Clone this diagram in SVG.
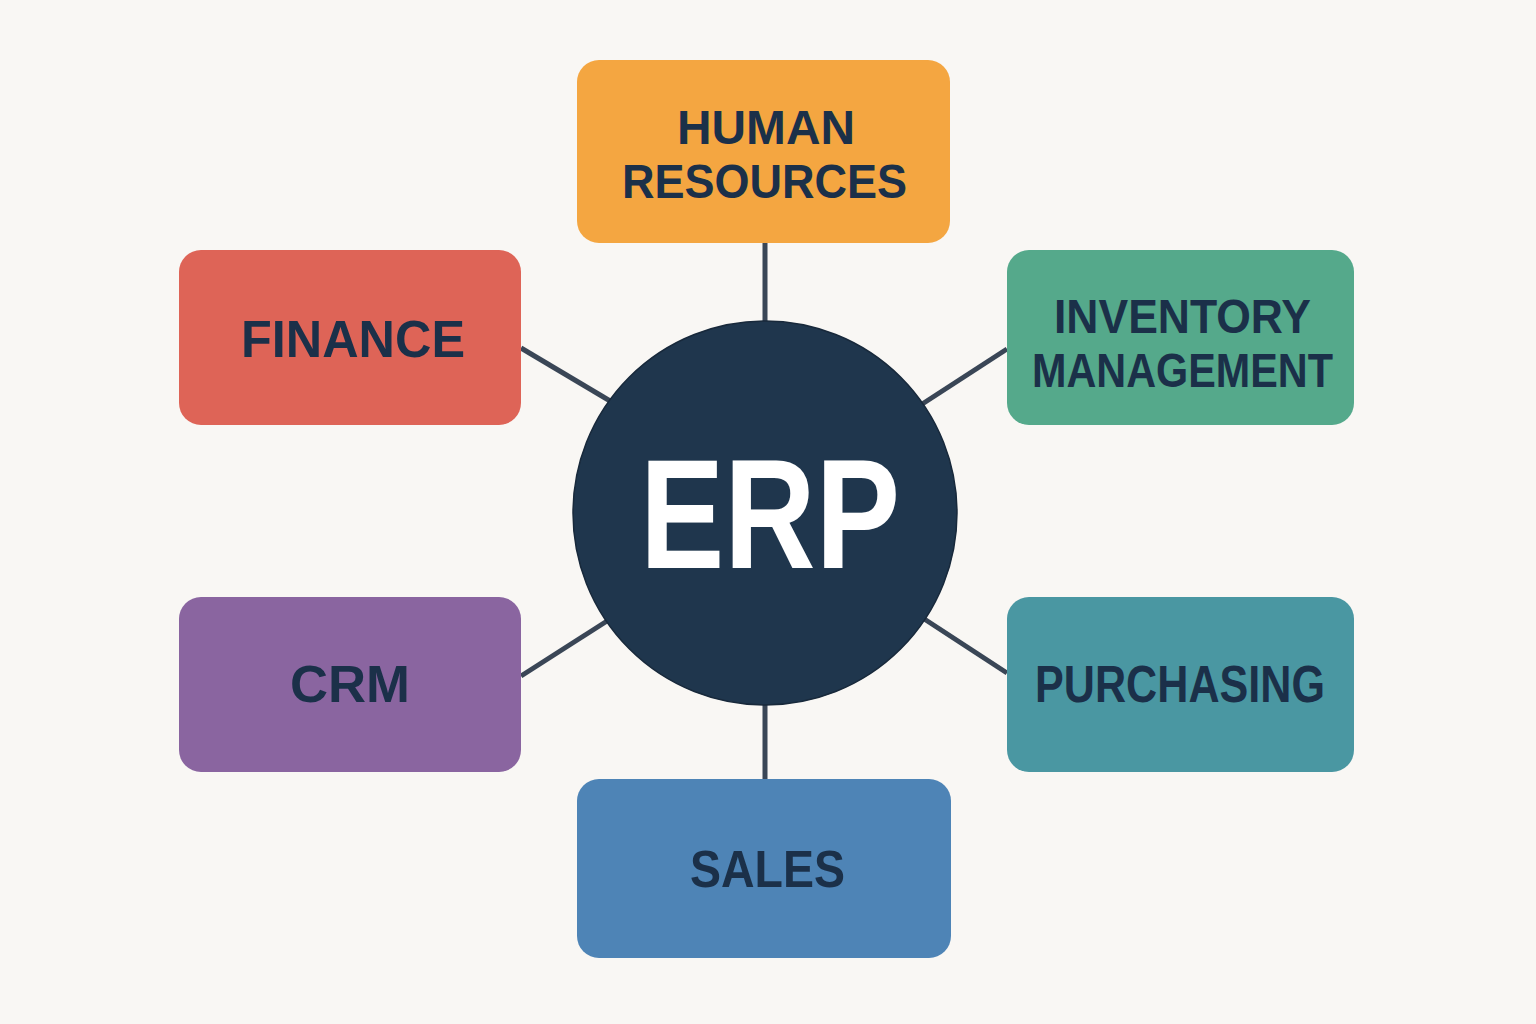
<svg xmlns="http://www.w3.org/2000/svg" width="1536" height="1024" viewBox="0 0 1536 1024">
<style>
.lbl{font-family:"Liberation Sans",Arial,sans-serif;font-weight:bold;font-size:52px;fill:#1B3049;text-anchor:middle}
.two{font-size:48px}
.con{stroke:#3A4656;stroke-width:5;fill:none}
</style>
<rect width="1536" height="1024" fill="#F9F7F4"/>
<g id="connectors">
<line class="con" x1="765" y1="243" x2="765" y2="513"/>
<line class="con" x1="521" y1="348" x2="765" y2="493"/>
<line class="con" x1="1007" y1="349" x2="765" y2="506"/>
<line class="con" x1="521" y1="676" x2="765" y2="520"/>
<line class="con" x1="1007" y1="673" x2="765" y2="515"/>
<line class="con" x1="765" y1="779" x2="765" y2="513"/>
</g>
<g id="erp">
<circle cx="765" cy="513" r="192" fill="#1F364D" stroke="#18293B" stroke-width="1.5"/>
<text x="770" y="568" font-family="'Liberation Sans',Arial,sans-serif" font-weight="bold" font-size="155" fill="#FFFFFF" text-anchor="middle" textLength="260" lengthAdjust="spacingAndGlyphs">ERP</text>
</g>
<g id="hr">
<rect x="577" y="60" width="373" height="183" rx="22" fill="#F4A641"/>
<text class="lbl two" x="766" y="144" textLength="178" lengthAdjust="spacingAndGlyphs">HUMAN</text>
<text class="lbl two" x="764.5" y="198" textLength="285" lengthAdjust="spacingAndGlyphs">RESOURCES</text>
</g>
<g id="finance">
<rect x="179" y="250" width="342" height="175" rx="22" fill="#DE6457"/>
<text class="lbl" x="353" y="357" textLength="224" lengthAdjust="spacingAndGlyphs">FINANCE</text>
</g>
<g id="inventory">
<rect x="1007" y="250" width="347" height="175" rx="22" fill="#55A98B"/>
<text class="lbl two" x="1182.5" y="333" textLength="257" lengthAdjust="spacingAndGlyphs">INVENTORY</text>
<text class="lbl two" x="1182.5" y="387" textLength="301" lengthAdjust="spacingAndGlyphs">MANAGEMENT</text>
</g>
<g id="crm">
<rect x="179" y="597" width="342" height="175" rx="22" fill="#8A65A0"/>
<text class="lbl" x="350" y="702" textLength="120" lengthAdjust="spacingAndGlyphs">CRM</text>
</g>
<g id="purchasing">
<rect x="1007" y="597" width="347" height="175" rx="22" fill="#4A97A2"/>
<text class="lbl" x="1180" y="702" textLength="290" lengthAdjust="spacingAndGlyphs">PURCHASING</text>
</g>
<g id="sales">
<rect x="577" y="779" width="374" height="179" rx="22" fill="#4E84B6"/>
<text class="lbl" x="767.5" y="887" textLength="155" lengthAdjust="spacingAndGlyphs">SALES</text>
</g>
</svg>
